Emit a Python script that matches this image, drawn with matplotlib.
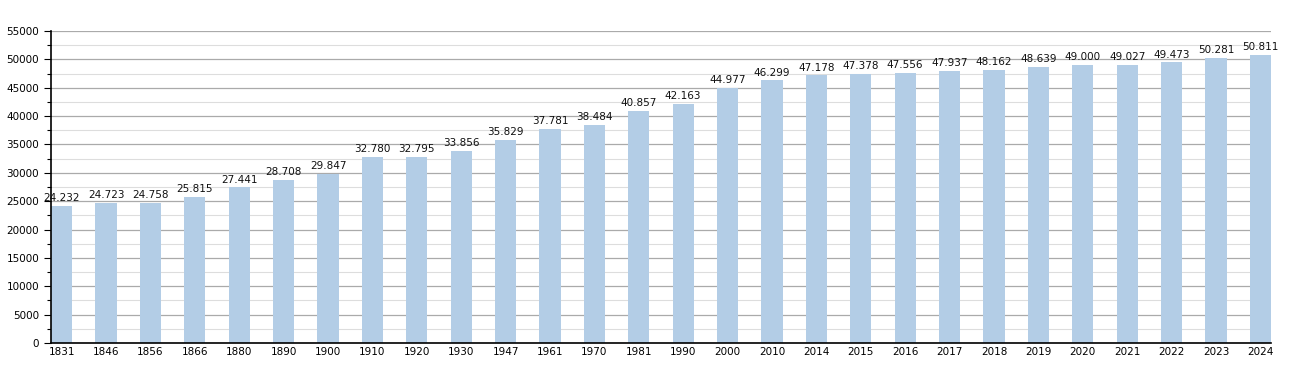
import matplotlib
matplotlib.use("Agg")
import matplotlib.pyplot as plt
from matplotlib.ticker import MultipleLocator

years = ["1831", "1846", "1856", "1866", "1880", "1890", "1900", "1910", "1920", "1930",
         "1947", "1961", "1970", "1981", "1990", "2000", "2010", "2014", "2015", "2016",
         "2017", "2018", "2019", "2020", "2021", "2022", "2023", "2024"]
population = [24232, 24723, 24758, 25815, 27441, 28708, 29847, 32780, 32795, 33856,
              35829, 37781, 38484, 40857, 42163, 44977, 46299, 47178, 47378, 47556,
              47937, 48162, 48639, 49000, 49027, 49473, 50281, 50811]


def fmt(v):
    return f"{v:,}".replace(",", ".")


fig = plt.figure(figsize=(13, 3.73), dpi=100)
ax = fig.add_axes([0.0392, 0.0804, 0.9385, 0.8365])

x = list(range(len(years)))
ax.bar(x, population, width=0.48, color="#b3cde6", zorder=2)
for xi, v in zip(x, population):
    ax.text(xi, v + 500, fmt(v), ha="center", va="bottom", fontsize=7.5, color="#111111")

ax.set_xlim(-0.24, len(years) - 1 + 0.24)
ax.set_ylim(0, 55000)
ax.yaxis.set_major_locator(MultipleLocator(5000))
ax.yaxis.set_minor_locator(MultipleLocator(2500))
ax.grid(axis="y", which="major", color="#aaaaaa", linewidth=0.9, zorder=0)
ax.grid(axis="y", which="minor", color="#dddddd", linewidth=0.8, zorder=0)
ax.set_axisbelow(True)

ax.set_xticks(x)
ax.set_xticklabels(years, fontsize=7.5)
ax.tick_params(axis="x", length=0, pad=3)
ax.tick_params(axis="y", which="major", labelsize=7.5, length=5, width=0.8)
ax.tick_params(axis="y", which="minor", length=3, width=0.8)

for side in ("top", "right"):
    ax.spines[side].set_visible(False)
ax.spines["left"].set_linewidth(1.2)
ax.spines["bottom"].set_linewidth(1.2)

fig.savefig("out.png", dpi=100)
